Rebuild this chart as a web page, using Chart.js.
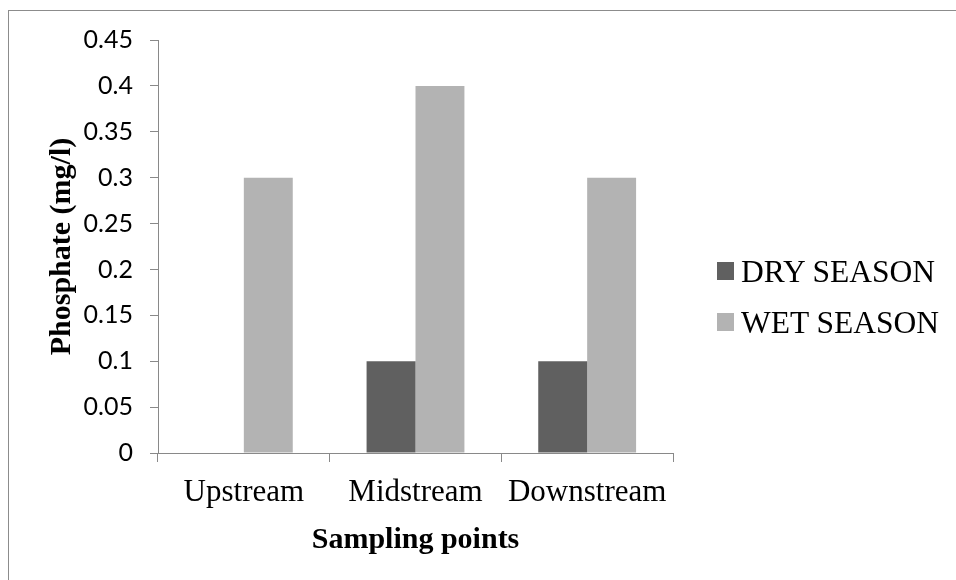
<!DOCTYPE html>
<html>
<head>
<meta charset="utf-8">
<script src="https://cdn.jsdelivr.net/npm/chart.js@4/dist/chart.umd.min.js"></script>
<style>
  html, body { margin: 0; padding: 0; background: #fff; }
  #wrap { position: relative; width: 956px; height: 580px; overflow: hidden; }
  #frame {
    position: absolute; left: 8px; top: 10px; width: 1000px; height: 700px;
    border: 1px solid #8c8c8c; box-sizing: border-box;
  }
  canvas { position: absolute; left: 0; top: 0; }
  #legend {
    position: absolute; left: 717px; top: 246px;
    font-family: "Liberation Serif", "Times New Roman", serif; font-size: 31.5px; color: #000;
  }
  .item { display: flex; align-items: center; height: 51px; }
  .box { width: 17px; height: 18px; margin-right: 7px; margin-top: -2px; }
</style>
</head>
<body>
<div id="wrap">
  <div id="frame"></div>
  <canvas id="phosphateChart" width="956" height="580"></canvas>
  <div id="legend"></div>
</div>
<script>
const sites = ['Upstream', 'Midstream', 'Downstream'];
const seriesNames = ['DRY SEASON', 'WET SEASON'];
const dryValues = [0, 0.1, 0.1];
const wetValues = [0.3, 0.4, 0.3];
const seriesColors = ['#606060', '#b3b3b3'];

const axisGray = '#898989';
const serif = '"Liberation Serif", "Times New Roman", serif';

const datasets = [dryValues, wetValues].map((vals, i) => ({
  label: seriesNames[i],
  data: vals,
  backgroundColor: seriesColors[i],
  borderWidth: 0,
  categoryPercentage: 0.57,
  barPercentage: 1.0
}));

const ctx = document.getElementById('phosphateChart').getContext('2d');
new Chart(ctx, {
  type: 'bar',
  data: { labels: sites, datasets: datasets },
  options: {
    responsive: false,
    animation: false,
    events: [],
    layout: { padding: { left: 44, right: 283, top: 40, bottom: 22 } },
    plugins: { legend: { display: false }, tooltip: { enabled: false } },
    scales: {
      x: {
        grid: { offset: true, drawOnChartArea: false, drawTicks: true, tickLength: 9, color: axisGray },
        border: { display: true, color: axisGray, width: 1 },
        ticks: { color: '#000', padding: 12, font: { family: serif, size: 31 } },
        title: { display: true, text: 'Sampling points', color: '#000', padding: 0,
                 font: { family: serif, size: 30, weight: 'bold' } },
        afterFit: s => { s.height = 105; }
      },
      y: {
        min: 0,
        max: 0.45,
        grid: { drawOnChartArea: false, drawTicks: true, tickLength: 8, color: axisGray },
        border: { display: true, color: axisGray, width: 1 },
        ticks: {
          stepSize: 0.05,
          padding: 17,
          color: '#000',
          font: { family: 'Lato, "Open Sans", sans-serif', size: 25 },
          callback: v => String(+v.toFixed(2))
        },
        title: { display: true, text: 'Phosphate (mg/l)', color: '#000', padding: 0,
                 font: { family: serif, size: 30, weight: 'bold' } },
        afterFit: s => { s.width = 114; }
      }
    }
  }
});

// legend entries built from the series lists
const legend = document.getElementById('legend');
seriesNames.forEach((name, i) => {
  const row = document.createElement('div');
  row.className = 'item';
  const sw = document.createElement('span');
  sw.className = 'box';
  sw.style.background = seriesColors[i];
  const txt = document.createElement('span');
  txt.textContent = name;
  row.appendChild(sw);
  row.appendChild(txt);
  legend.appendChild(row);
});
</script>
</body>
</html>
